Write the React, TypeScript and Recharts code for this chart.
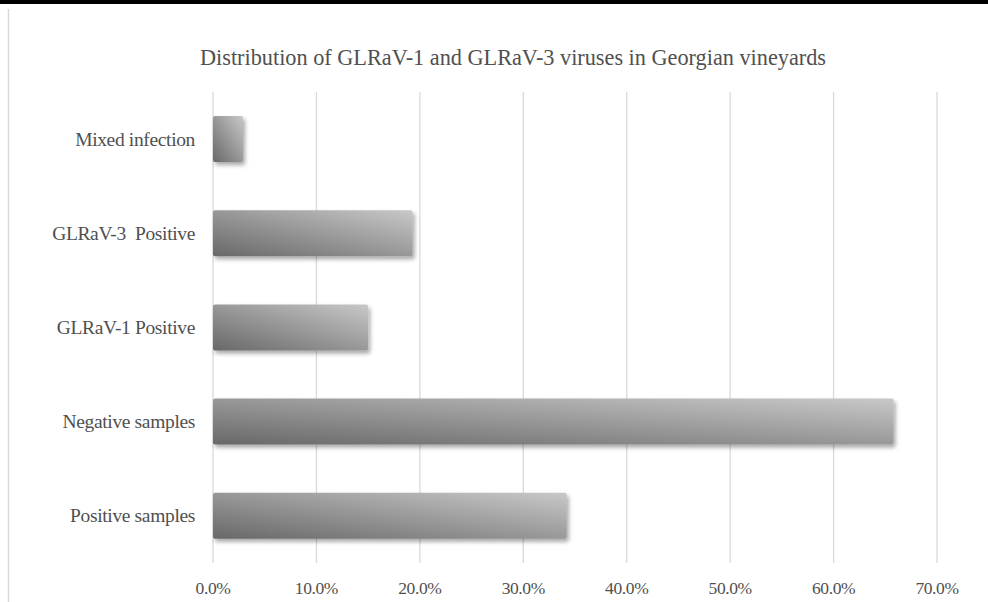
import React from 'react';
import { BarChart, Bar, XAxis, YAxis, CartesianGrid } from 'recharts';

const categories = [
  'Mixed infection',
  'GLRaV-3  Positive',
  'GLRaV-1 Positive',
  'Negative samples',
  'Positive samples',
];
const percentages = [2.9, 19.3, 15.0, 65.8, 34.2];
const xTicks = [0, 10, 20, 30, 40, 50, 60, 70];

const data = categories.map((name, i) => ({ name, value: percentages[i] }));

const FONT = '"Liberation Serif", "DejaVu Serif", serif';
const TEXT = '#505050';

const CategoryTick = (props: any) => {
  const { x, y, payload } = props;
  return (
    <text
      x={x}
      y={y}
      textAnchor="end"
      dominantBaseline="central"
      fill={TEXT}
      fontFamily={FONT}
      fontSize={19.5}
      letterSpacing={-0.35}
      style={{ whiteSpace: 'pre' }}
    >
      {payload.value}
    </text>
  );
};

const BarShape = (props: any) => {
  const { x, y, width, height } = props;
  if (!width || width <= 0) return null;
  return (
    <rect
      x={x}
      y={y}
      width={width}
      height={height}
      rx={2}
      fill="url(#barGrad)"
      filter="url(#barShadow)"
    />
  );
};

const App: React.FC = () => {
  return (
    <div
      style={{
        position: 'absolute',
        left: 0,
        top: 0,
        width: 988,
        height: 602,
        background: '#fff',
        overflow: 'hidden',
      }}
    >
      <BarChart
        layout="vertical"
        width={988}
        height={602}
        data={data}
        margin={{ top: 92, right: 51, bottom: 9, left: 13 }}
      >
        <defs>
          <linearGradient id="barGrad" x1="0" y1="1" x2="1" y2="0">
            <stop offset="0%" stopColor="#686868" />
            <stop offset="100%" stopColor="#c8c8c8" />
          </linearGradient>
          <filter id="barShadow" x="-10%" y="-30%" width="130%" height="180%">
            <feDropShadow dx="2" dy="3" stdDeviation="2" floodColor="#000" floodOpacity="0.35" />
          </filter>
        </defs>
        <CartesianGrid horizontal={false} stroke="#d9d9d9" strokeWidth={1.3} />
        <XAxis
          type="number"
          domain={[0, 70]}
          ticks={xTicks}
          interval={0}
          axisLine={false}
          tickLine={false}
          tickSize={0}
          tickMargin={19}
          height={30}
          tickFormatter={(v: number) => `${v.toFixed(1)}%`}
          tick={{ fill: TEXT, fontFamily: FONT, fontSize: 17.5, letterSpacing: -0.4 }}
        />
        <YAxis
          type="category"
          dataKey="name"
          width={200}
          axisLine={false}
          tickLine={false}
          tickSize={0}
          tickMargin={18}
          interval={0}
          tick={<CategoryTick />}
        />
        <Bar dataKey="value" barSize={46} shape={<BarShape />} isAnimationActive={false} />
      </BarChart>
      <svg
        width={988}
        height={602}
        style={{ position: 'absolute', left: 0, top: 0, pointerEvents: 'none' }}
      >
        <rect x={0} y={0} width={988} height={4} fill="#000" />
        <line x1={8.5} y1={9} x2={8.5} y2={602} stroke="#d9d9d9" strokeWidth={1.5} />
        <text
          x={200}
          y={65}
          fill={TEXT}
          fontFamily={FONT}
          fontSize={24}
          textLength={626}
          lengthAdjust="spacingAndGlyphs"
        >
          Distribution of GLRaV-1 and GLRaV-3 viruses in Georgian vineyards
        </text>
      </svg>
    </div>
  );
};

export default App;
